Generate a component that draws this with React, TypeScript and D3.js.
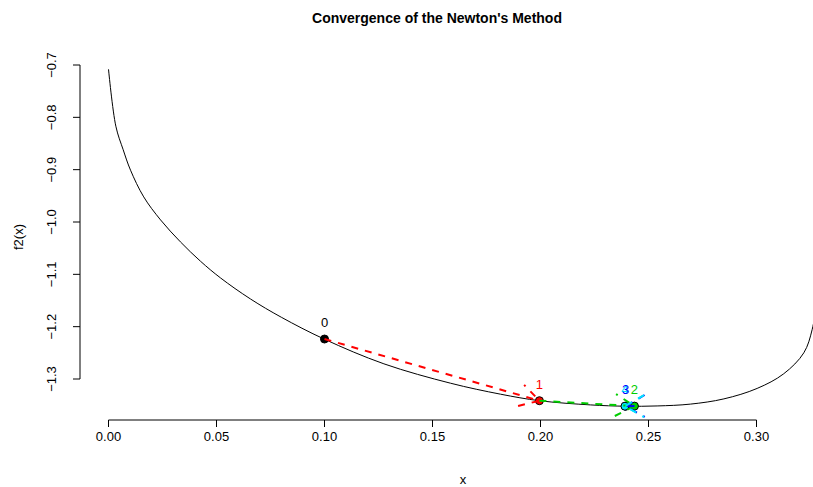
import React from "react";
import * as d3 from "d3";

// Curve f2(x)
const curveX = [0.0, 0.0034, 0.0068, 0.0102, 0.0163, 0.0241, 0.0333, 0.0426, 0.0519, 0.0657, 0.08, 0.1, 0.1275, 0.1583, 0.1815, 0.1995, 0.2231, 0.2394, 0.254, 0.2694, 0.2849, 0.3003, 0.3126, 0.3219, 0.3258, 0.329];
const curveY = [-0.708, -0.817, -0.862, -0.901, -0.952, -0.996, -1.038, -1.075, -1.107, -1.147, -1.182, -1.224, -1.271, -1.308, -1.329, -1.3415, -1.3495, -1.352, -1.3515, -1.348, -1.338, -1.318, -1.29, -1.25, -1.205, -1.12];

// Newton iterates
const iterLabels = ["0", "1", "2", "3", "4"];
const iterX = [0.1, 0.1995, 0.2435, 0.2394, 0.2391];
const iterY = [-1.2236, -1.3415, -1.3518, -1.352, -1.352];
const iterColors = ["#000000", "#FF0000", "#00CD00", "#0000FF", "#00E5FF"];

const xTicks = [0.0, 0.05, 0.1, 0.15, 0.2, 0.25, 0.3];
const yTicks = [-1.3, -1.2, -1.1, -1.0, -0.9, -0.8, -0.7];

const title = "Convergence of the Newton's Method";
const xLabel = "x";
const yLabel = "f2(x)";

export default function App() {
  const W = 813, H = 487;
  const x = d3.scaleLinear().domain([0, 0.3]).range([108.5, 756.5]);
  const y = d3.scaleLinear().domain([-1.3, -0.7]).range([379, 65]);
  const font = "'Liberation Sans', Arial, Helvetica, sans-serif";

  const line = d3
    .line<number>()
    .x((_, i) => x(curveX[i]))
    .y((d) => y(d))
    .curve(d3.curveCatmullRom.alpha(0.5));

  const axisY0 = 420;
  const axisX0 = 80;
  const headLen = 22;
  const headAng = Math.PI / 6;

  const arrows = [] as JSX.Element[];
  for (let i = 0; i < iterX.length - 1; i++) {
    const x0 = x(iterX[i]), y0 = y(iterY[i]);
    const x1 = x(iterX[i + 1]), y1 = y(iterY[i + 1]);
    const ang = Math.atan2(y1 - y0, x1 - x0);
    const a1 = ang + Math.PI - headAng;
    const a2 = ang + Math.PI + headAng;
    const e1 = [x1 + headLen * Math.cos(a1), y1 + headLen * Math.sin(a1)];
    const e2 = [x1 + headLen * Math.cos(a2), y1 + headLen * Math.sin(a2)];
    const col = iterColors[i + 1];
    arrows.push(
      <g key={"a" + i} stroke={col} strokeWidth={2} strokeDasharray="7 7" fill="none">
        <line x1={x0} y1={y0} x2={x1} y2={y1} />
        <polyline points={`${e1[0]},${e1[1]} ${x1},${y1} ${e2[0]},${e2[1]}`} />
      </g>
    );
  }

  const labelOrder = [0, 1, 2, 4, 3];

  return (
    <svg
      width={W}
      height={H}
      style={{ position: "absolute", left: 0, top: 0, background: "#fff" }}
      fontFamily={font}
    >
      <rect x={0} y={0} width={W} height={H} fill="#fff" />
      <text x={437} y={23} textAnchor="middle" fontSize={14} fontWeight="bold">
        {title}
      </text>

      {/* curve */}
      <path d={line(curveY) || ""} fill="none" stroke="#000" strokeWidth={1} />

      {/* x axis */}
      <line x1={x(0)} x2={x(0.3)} y1={axisY0} y2={axisY0} stroke="#000" />
      {xTicks.map((t) => (
        <g key={"xt" + t}>
          <line x1={x(t)} x2={x(t)} y1={axisY0} y2={axisY0 + 7} stroke="#000" />
          <text x={x(t)} y={441} textAnchor="middle" fontSize={13}>
            {t.toFixed(2)}
          </text>
        </g>
      ))}
      <text x={463} y={484} textAnchor="middle" fontSize={13}>
        {xLabel}
      </text>

      {/* y axis */}
      <line x1={axisX0} x2={axisX0} y1={y(-1.3)} y2={y(-0.7)} stroke="#000" />
      {yTicks.map((t) => (
        <g key={"yt" + t}>
          <line x1={axisX0 - 7} x2={axisX0} y1={y(t)} y2={y(t)} stroke="#000" />
          <text
            transform={`translate(56,${y(t)}) rotate(-90)`}
            textAnchor="middle"
            fontSize={13}
          >
            {t.toFixed(1).replace("-", "\u2212")}
          </text>
        </g>
      ))}
      <text transform={`translate(23,237) rotate(-90)`} textAnchor="middle" fontSize={13}>
        {yLabel}
      </text>

      {/* points */}
      {iterX.map((v, i) => (
        <circle
          key={"p" + i}
          cx={x(v)}
          cy={y(iterY[i])}
          r={4}
          fill={iterColors[i]}
          stroke="#000"
          strokeWidth={1}
        />
      ))}

      {arrows}

      {labelOrder.map((i) => (
        <text
          key={"l" + i}
          x={x(iterX[i])}
          y={y(iterY[i]) - 12}
          textAnchor="middle"
          fontSize={13}
          fill={iterColors[i]}
        >
          {iterLabels[i]}
        </text>
      ))}
    </svg>
  );
}
